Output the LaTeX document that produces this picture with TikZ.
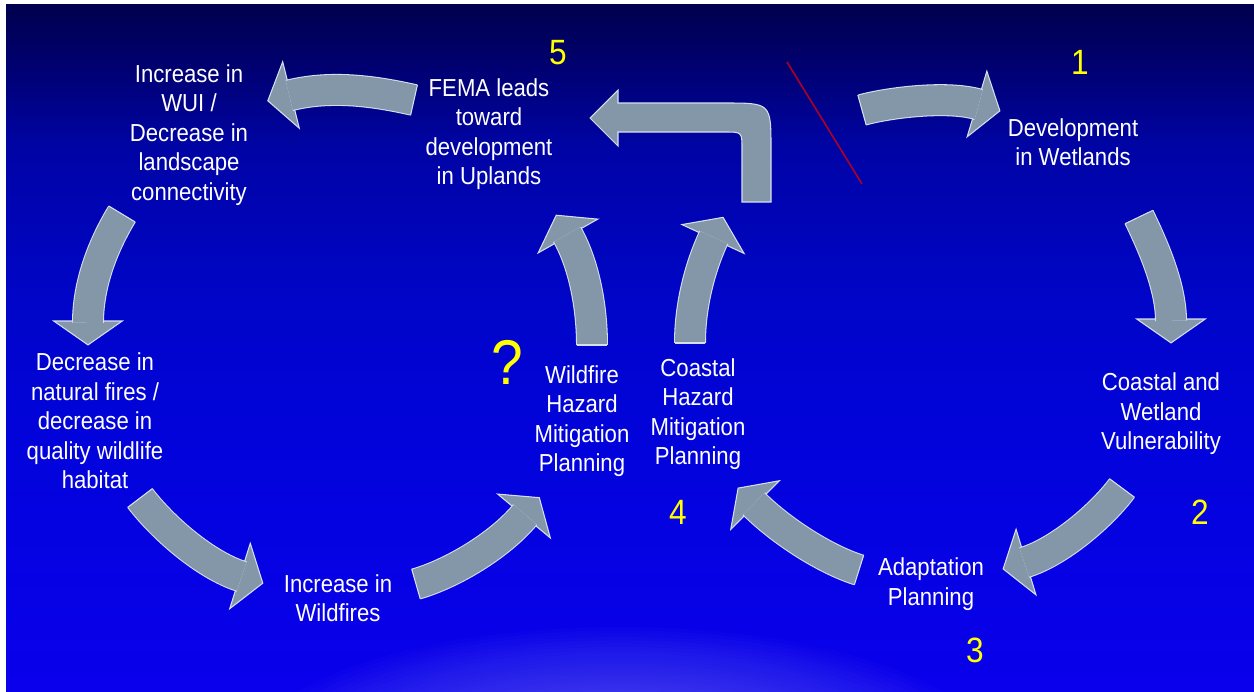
\documentclass[tikz,border=0pt]{standalone}
\usepackage{fontspec}
\setmainfont{Liberation Sans}[FakeStretch=0.9]
\usepackage{tikz}
\usetikzlibrary{calc}
\definecolor{arrowgray}{RGB}{132,151,168}
\definecolor{arrowedge}{RGB}{214,222,240}
\definecolor{numyellow}{RGB}{255,255,0}
\definecolor{slashred}{RGB}{175,0,35}
\definecolor{bgtop}{RGB}{0,0,78}
\definecolor{bgupper}{RGB}{0,0,108}
\definecolor{bgmid}{RGB}{0,4,165}
\definecolor{bglow}{RGB}{0,5,200}
\definecolor{bgdeep}{RGB}{2,3,220}
\definecolor{bgbottom}{RGB}{10,0,236}
\definecolor{glow}{RGB}{150,150,255}
% TikZ fits the band 25bp--75bp of a shading to the path
\pgfdeclareverticalshading{slidebg}{100bp}{color(0bp)=(bgbottom); color(25bp)=(bgbottom); color(42.5bp)=(bgdeep); color(53.5bp)=(bglow); color(64.5bp)=(bgmid); color(71bp)=(bgupper); color(75bp)=(bgtop); color(100bp)=(bgtop)}
\tikzset{
  lbl/.style={text=white, align=center, inner sep=0pt, font=\fontsize{14}{16.8}\selectfont},
  num/.style={text=numyellow, inner sep=0pt, font=\fontsize{20}{20}\selectfont},
  shaft/.style={draw=arrowedge, line width=0.6pt, double=arrowgray, double distance=17pt},
  head/.style={fill=arrowgray, draw=arrowedge, line width=0.6pt, line join=miter},
  tailcap/.style={draw=arrowedge, line width=0.6pt},
  slash/.style={draw=slashred, line width=0.9pt}
}
% curved block arrow: tail, control 1, control 2, head base
\newcommand{\bigarrow}[4]{%
  \filldraw[head] ($(#4)!19.5pt!90:(#3)$) -- ($(#4)!-13.6pt!(#3)$) -- ($(#4)!19.5pt!-90:(#3)$) -- cycle;
  \draw[shaft] (#1) .. controls (#2) and (#3) .. ($(#4)!-1pt!(#3)$);
  \draw[tailcap] ($(#1)!8.8pt!90:(#2)$) -- ($(#1)!8.8pt!-90:(#2)$);
}

\begin{document}
\begin{tikzpicture}[x=0.02cm, y=-0.02cm]
  \useasboundingbox (0,0) rectangle (1254,691);
  \fill[white] (0,0) rectangle (1254,691);
  \shade[shading=slidebg] (6,4) rectangle (1254,691);
  \begin{scope}
    \clip (6,4) rectangle (1254,691);
    \foreach \k in {1,...,40}
      \fill[glow, fill opacity=0.025] (620,760) ellipse [x radius=\k*0.188cm, y radius=\k*0.0665cm];
  \end{scope}

  % text blocks
  \node[lbl] (wui) at (189,135) {Increase in\\WUI /\\Decrease in\\landscape\\connectivity};
  \node[lbl] (natfire) at (95,421) {Decrease in\\natural fires /\\decrease in\\quality wildlife\\habitat};
  \node[lbl] (incfire) at (338,598) {Increase in\\Wildfires};
  \node[lbl] (fema) at (489,134) {FEMA leads\\toward\\development\\in Uplands};
  \node[lbl] (wetdev) at (1073,142) {Development\\in Wetlands};
  \node[lbl] (coastvul) at (1161,414) {Coastal and\\Wetland\\Vulnerability};
  \node[lbl] (adapt) at (931,584) {Adaptation\\Planning};
  \node[lbl] (firehmp) at (582,421) {Wildfire\\Hazard\\Mitigation\\Planning};
  \node[lbl] (coasthmp) at (698,414) {Coastal\\Hazard\\Mitigation\\Planning};

  % step numbers
  \node[num] (n1) at (1080,62) {1};
  \node[num] (n2) at (1200,512) {2};
  \node[num] (n3) at (975,650) {3};
  \node[num] (n4) at (678,512) {4};
  \node[num] (n5) at (558,53) {5};
  \node[num, font=\fontsize{36}{36}\selectfont] (ask) at (507,362) {?};

  % arrow ends
  \coordinate (femaout) at (414,100);  \coordinate (wuiin) at (291,95);
  \coordinate (wuiout) at (122,214);   \coordinate (natin) at (88,321);
  \coordinate (natout) at (140,498);   \coordinate (incin) at (240,576);
  \coordinate (incout) at (416,584);   \coordinate (firein) at (524,516);
  \coordinate (fireout) at (592,345);  \coordinate (femain) at (568,236);
  \coordinate (coastout) at (690,343); \coordinate (bendin) at (713,239);
  \coordinate (adaptout) at (859,570); \coordinate (coastin) at (755,505);
  \coordinate (vulout) at (1122,488);  \coordinate (adaptin) at (1026,562);
  \coordinate (wetout) at (1139,217);  \coordinate (vulin) at (1171,319);
  \coordinate (bendout) at (862,110);  \coordinate (wetin) at (977,104);

  \bigarrow{femaout}{374,91}{331,85}{wuiin}
  \bigarrow{wuiout}{102,247}{88,285}{natin}
  \bigarrow{natout}{162,527}{205,565}{incin}
  \bigarrow{incout}{451,574}{499,546}{firein}
  \bigarrow{fireout}{592,310}{585,266}{femain}
  \bigarrow{coastout}{690,305}{700,267}{bendin}
  \bigarrow{adaptout}{824,559}{780,530}{coastin}
  \bigarrow{vulout}{1102,515}{1059,552}{adaptin}
  \bigarrow{wetout}{1151,242}{1171,285}{vulin}
  \bigarrow{bendout}{887,103}{947,95}{wetin}

  % bent arrow back to FEMA
  \filldraw[head] (771,202) -- (771,149) .. controls (771,103) .. (725,103) -- (618,103)
    -- (618,90) -- (590,118) -- (618,146) -- (618,132) -- (725,132)
    .. controls (742,132) .. (742,149) -- (742,202) -- cycle;

  \draw[slash] (787,62) -- (862,184);
\end{tikzpicture}
\end{document}
